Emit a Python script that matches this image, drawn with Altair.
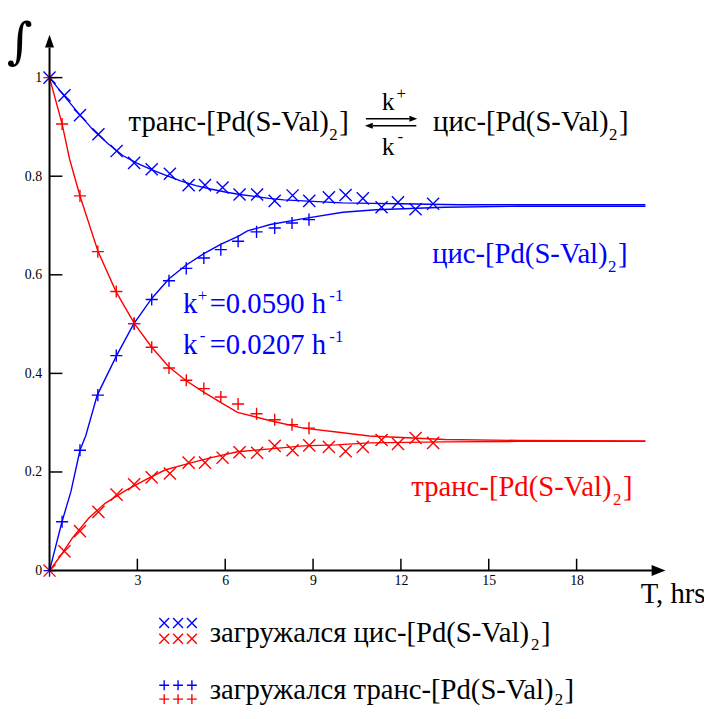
import altair as alt
import pandas as pd

# ---------------- data ----------------
# experiment 1: cis-isomer loaded (x markers)
t_cis_loaded = [0, 0.51, 1.04, 1.67, 2.29, 2.89, 3.49, 4.11, 4.75, 5.31, 5.91, 6.49,
                7.09, 7.69, 8.30, 8.87, 9.54, 10.11, 10.70, 11.34, 11.90, 12.50, 13.10]
cis_loaded_cis = [1.0, 0.964, 0.924, 0.885, 0.851, 0.827, 0.814, 0.805, 0.782, 0.782, 0.777, 0.763,
                  0.763, 0.750, 0.761, 0.750, 0.757, 0.762, 0.755, 0.737, 0.747, 0.733, 0.744]
cis_loaded_trans = [0.0, 0.039, 0.080, 0.119, 0.154, 0.175, 0.189, 0.197, 0.219, 0.219, 0.229, 0.240,
                    0.239, 0.253, 0.244, 0.254, 0.251, 0.242, 0.251, 0.265, 0.257, 0.269, 0.259]

# experiment 2: trans-isomer loaded (+ markers)
t_trans_loaded = [0, 0.43, 1.04, 1.65, 2.28, 2.89, 3.49, 4.08, 4.67, 5.27, 5.85, 6.44,
                  7.07, 7.69, 8.28, 8.86]
trans_loaded_cis = [0.0, 0.099, 0.244, 0.356, 0.436, 0.501, 0.550, 0.588, 0.613, 0.634, 0.651, 0.668,
                    0.687, 0.695, 0.705, 0.712]
trans_loaded_trans = [1.0, 0.906, 0.760, 0.647, 0.566, 0.501, 0.453, 0.411, 0.386, 0.369, 0.352, 0.338,
                      0.318, 0.306, 0.296, 0.289]

# fitted curves
fit_cc_t = [0, 0.5, 1.0, 1.5, 2.0, 2.5, 3.0, 3.5, 4.0, 4.5, 5.0, 5.5, 6.0, 6.5, 7.0, 7.5, 8.0,
            9.0, 10.0, 11.0, 12.0, 13.0, 14.0, 16.0, 18.0, 20.35]
fit_cc_y = [1.0, 0.963, 0.927, 0.893, 0.866, 0.842, 0.826, 0.813, 0.801, 0.790, 0.781, 0.774, 0.768,
            0.763, 0.759, 0.755, 0.752, 0.749, 0.746, 0.745, 0.744, 0.743, 0.742, 0.742, 0.742, 0.742]
fit_ct_t = [0, 0.34, 0.79, 1.35, 1.91, 2.59, 3.27, 3.94, 4.73, 5.52, 6.42, 7.54, 8.67, 9.8, 10.92,
            13.5, 16.0, 20.35]
fit_ct_y = [0.0, 0.027, 0.067, 0.107, 0.137, 0.162, 0.184, 0.204, 0.217, 0.229, 0.241, 0.247, 0.253,
            0.255, 0.259, 0.261, 0.262, 0.262]
fit_tc_t = [0, 0.43, 0.73, 1.04, 1.24, 1.63, 2.29, 2.87, 3.49, 4.08, 4.67, 5.27, 5.86, 6.44, 6.76,
            7.54, 8.67, 10.02, 11.15, 13.5, 16.0, 20.35]
fit_tc_y = [0.0, 0.100, 0.160, 0.244, 0.274, 0.356, 0.436, 0.500, 0.552, 0.592, 0.620, 0.643, 0.662,
            0.678, 0.689, 0.702, 0.714, 0.727, 0.732, 0.737, 0.739, 0.739]
fit_tt_t = [0, 0.43, 0.68, 1.04, 1.66, 2.27, 2.91, 3.49, 4.08, 4.67, 5.29, 5.9, 6.42, 7.54, 8.67,
            9.8, 10.92, 13.5, 16.0, 20.35]
fit_tt_y = [1.0, 0.906, 0.836, 0.760, 0.647, 0.566, 0.500, 0.453, 0.413, 0.385, 0.361, 0.339, 0.321,
            0.304, 0.289, 0.281, 0.273, 0.266, 0.264, 0.263]

x_ticks = [3, 6, 9, 12, 15, 18]
y_ticks = [0, 0.2, 0.4, 0.6, 0.8, 1]

BLUE = "#0000FF"
RED = "#FF0000"
FONT = "Liberation Serif"

# ---------------- geometry ----------------
W, H = 622, 542
PAD_L, PAD_T = 42, 23
X0, Y0 = 8 + PAD_L, 8 + PAD_T      # page position of plot-area top-left
CANVAS_H = 703


def px(x):
    return x - X0


def py(y):
    return y - Y0


xs = alt.Scale(domain=[0, 21], nice=False, zero=False)
ys = alt.Scale(domain=[0, 1.087], nice=False, zero=False)
xaxis = alt.Axis(values=x_ticks, format="d", ticks=False, domain=False, grid=False,
                 labelFont=FONT, labelFontSize=14, labelColor="black", labelPadding=3,
                 title=None)
yaxis = alt.Axis(values=y_ticks, format="~g", ticks=False, domain=False, grid=False,
                 labelFont=FONT, labelFontSize=14, labelColor="black", labelPadding=8,
                 title=None)
X = alt.X("t:Q", scale=xs, axis=xaxis, title=None)
Y = alt.Y("v:Q", scale=ys, axis=yaxis, title=None)

XSHAPE = "M-1,-1L1,1M1,-1L-1,1"
PSHAPE = "M-1,0L1,0M0,-1L0,1"


def df(t, v):
    return pd.DataFrame({"t": t, "v": v})


def line(t, v, color):
    return alt.Chart(df(t, v)).mark_line(color=color, strokeWidth=1.4).encode(x=X, y=Y)


def pts(t, v, color, shape):
    return alt.Chart(df(t, v)).mark_point(shape=shape, filled=False, color=color, size=150,
                                          strokeWidth=1.4, opacity=1).encode(x=X, y=Y)


one = pd.DataFrame({"a": [0]})


def txt(s, x, y, size, color="black", font=FONT):
    return alt.Chart(one).mark_text(text=s, font=font, fontSize=size, color=color,
                                    align="left", baseline="alphabetic").encode(
        x=alt.value(px(x)), y=alt.value(py(y)))


def mark(x, y, shape, color, size, filled=False, sw=1.4):
    return alt.Chart(one).mark_point(shape=shape, filled=filled, color=color, size=size,
                                     strokeWidth=sw, opacity=1).encode(
        x=alt.value(px(x)), y=alt.value(py(y)))


def seg(x1, y1, x2, y2, sw=1.6, color="black"):
    return alt.Chart(one).mark_rule(color=color, strokeWidth=sw).encode(
        x=alt.value(px(x1)), y=alt.value(py(y1)), x2=alt.value(px(x2)), y2=alt.value(py(y2)))


layers = []

# data curves and markers
layers += [
    line(fit_cc_t, fit_cc_y, BLUE),
    line(fit_ct_t, fit_ct_y, RED),
    line(fit_tc_t, fit_tc_y, BLUE),
    line(fit_tt_t, fit_tt_y, RED),
    pts(t_cis_loaded, cis_loaded_cis, BLUE, XSHAPE),
    pts(t_cis_loaded, cis_loaded_trans, RED, XSHAPE),
    pts(t_trans_loaded, trans_loaded_cis, BLUE, PSHAPE),
    pts(t_trans_loaded, trans_loaded_trans, RED, PSHAPE),
]

# tick marks pointing inward
layers.append(alt.Chart(pd.DataFrame({"v": y_ticks[1:]})).mark_rule(color="black", strokeWidth=1.5)
              .encode(y=Y, x=alt.value(0), x2=alt.value(13)))
layers.append(alt.Chart(pd.DataFrame({"t": x_ticks})).mark_rule(color="black", strokeWidth=1.5)
              .encode(x=X, y=alt.value(H), y2=alt.value(H - 12)))

# axis lines with arrows
layers += [
    seg(50, 573, 662, 573, sw=2),
    seg(50, 573, 50, 44, sw=2),
    mark(673, 573, "M0,0L-1,-0.4L-1,0.4Z", "black", 784, filled=True, sw=0),
    mark(50, 31, "M0,0L-0.35,1L0.35,1Z", "black", 676, filled=True, sw=0),
]

# integral sign and axis title
layers += [
    txt("∫", 7, 55, 50, font="DejaVu Serif"),
    txt("T, hrs", 648, 606, 29),
]

FS, SS = 29, 17
# equilibrium equation
layers += [
    txt("транс-[Pd(S-Val)", 130, 128, FS),
    txt("2", 333, 137, SS),
    txt("]", 343, 128, FS),
    seg(370, 116, 414, 116, sw=1.5),
    mark(422, 116, "M0,0L-1,-0.38L-1,0.38Z", "black", 256, filled=True, sw=0),
    seg(377, 123, 421, 123, sw=1.5),
    mark(369, 123, "M0,0L1,-0.38L1,0.38Z", "black", 256, filled=True, sw=0),
    txt("k", 386, 107, 26),
    txt("+", 401, 96, SS),
    txt("k", 386, 153, 26),
    txt("-", 402, 140, SS),
    txt("цис-[Pd(S-Val)", 438, 128, FS),
    txt("2", 616, 137, SS),
    txt("]", 626, 128, FS),
]

# curve labels
layers += [
    txt("цис-[Pd(S-Val)", 437, 262, FS, BLUE),
    txt("2", 615, 271, SS, BLUE),
    txt("]", 625, 262, FS, BLUE),
    txt("транс-[Pd(S-Val)", 416, 498, FS, RED),
    txt("2", 620, 507, SS, RED),
    txt("]", 630, 498, FS, RED),
]

# rate constants
layers += [
    txt("k", 185, 312, FS, BLUE),
    txt("+", 200, 300, SS, BLUE),
    txt("=0.0590 h", 212, 312, FS, BLUE),
    txt("-1", 333, 300, SS, BLUE),
    txt("k", 185, 354, FS, BLUE),
    txt("-", 202, 341, SS, BLUE),
    txt("=0.0207 h", 212, 354, FS, BLUE),
    txt("-1", 333, 342, SS, BLUE),
]

# legend
for cx in (166, 180, 194):
    layers += [
        mark(cx, 626, XSHAPE, BLUE, 100),
        mark(cx, 642, XSHAPE, RED, 100),
        mark(cx, 689, PSHAPE, BLUE, 100),
        mark(cx, 703, PSHAPE, RED, 100),
    ]
layers += [
    txt("загружался цис-[Pd(S-Val)", 212, 645, FS),
    txt("2", 537, 653, SS),
    txt("]", 547, 645, FS),
    txt("загружался транс-[Pd(S-Val)", 212, 703, FS),
    txt("2", 561, 709, SS),
    txt("]", 571, 703, FS),
]

chart = alt.layer(*layers).properties(
    width=W, height=H,
    padding={"left": PAD_L, "top": PAD_T, "right": 704 - PAD_L - W, "bottom": CANVAS_H - PAD_T - H},
    autosize=alt.AutoSizeParams(type="none"),
    background="white",
).configure(font=FONT).configure_text(font=FONT).configure_axis(labelFont=FONT).configure_view(stroke=None)

chart.save("out.html", embed_options={"renderer": "svg", "actions": False})
